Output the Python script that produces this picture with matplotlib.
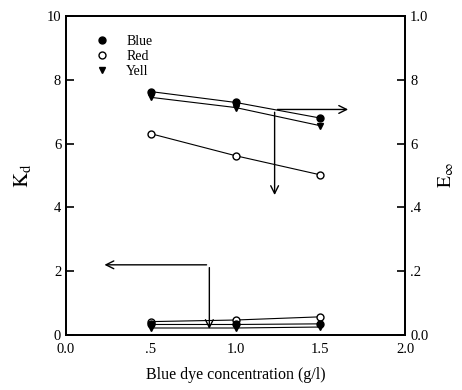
import matplotlib.pyplot as plt

plt.rcParams['font.family'] = ['Liberation Serif', 'DejaVu Serif']
plt.rcParams['mathtext.fontset'] = 'stix'

# blue dye concentration (g/l)
conc = [0.5, 1.0, 1.5]

# E_inf (right axis, 0-1) - upper group
E_blue = [0.763, 0.729, 0.680]
E_red = [0.631, 0.562, 0.502]
E_yell = [0.745, 0.713, 0.656]

# Kd (left axis, 0-10) - lower group
Kd_blue = [0.33, 0.33, 0.35]
Kd_red = [0.42, 0.47, 0.57]
Kd_yell = [0.22, 0.22, 0.25]

xticks = [0, 0.5, 1.0, 1.5, 2.0]
xticklabels = ["0.0", ".5", "1.0", "1.5", "2.0"]
kd_ticks = [0, 2, 4, 6, 8, 10]
e_ticks = [0, 0.2, 0.4, 0.6, 0.8, 1.0]
e_ticklabels = ["0.0", ".2", ".4", "6", "8", "1.0"]

fig = plt.figure(figsize=(4.62, 3.9), dpi=100)
ax = fig.add_axes([0.143, 0.141, 0.734, 0.818])
ax2 = ax.twinx()

# lower (Kd) curves
ax.plot(conc, Kd_red, color='black', lw=0.8, marker='o', mfc='white', mec='black', ms=5)
ax.plot(conc, Kd_blue, color='black', lw=0.8, marker='o', mfc='black', mec='black', ms=5)
ax.plot(conc, Kd_yell, color='black', lw=0.8, marker='v', mfc='black', mec='black', ms=5)

# upper (E_inf) curves
ax2.plot(conc, E_blue, color='black', lw=0.8, marker='o', mfc='black', mec='black', ms=5, label='Blue')
ax2.plot(conc, E_red, color='black', lw=0.8, marker='o', mfc='white', mec='black', ms=5, label='Red')
ax2.plot(conc, E_yell, color='black', lw=0.8, marker='v', mfc='black', mec='black', ms=5, label='Yell')

# arrows pointing to the axis each group belongs to
arw = dict(arrowstyle='->', color='black', lw=1.0, mutation_scale=14)
ax.annotate('', xy=(1.23, 4.3), xytext=(1.23, 7.07), arrowprops=arw)
ax.annotate('', xy=(1.68, 7.07), xytext=(1.23, 7.07), arrowprops=arw)
ax.annotate('', xy=(0.21, 2.2), xytext=(0.845, 2.2), arrowprops=arw)
ax.annotate('', xy=(0.845, 0.1), xytext=(0.845, 2.2), arrowprops=arw)

ax.set_xlim(0, 2.0)
ax.set_ylim(0, 10)
ax2.set_ylim(0, 1.0)
ax.set_xticks(xticks)
ax.set_xticklabels(xticklabels)
ax.set_yticks(kd_ticks)
ax2.set_yticks(e_ticks)
ax2.set_yticklabels(e_ticklabels)

ax.tick_params(axis='both', direction='in', length=6, width=1.2, labelsize=10.5)
ax2.tick_params(axis='y', direction='in', length=6, width=1.2, labelsize=10.5)
ax.tick_params(axis='x', length=0, pad=6)
for a in (ax, ax2):
    for s in a.spines.values():
        s.set_linewidth(1.3)

ax.set_xlabel("Blue dye concentration (g/l)", fontsize=11.5, labelpad=8)
ax.set_ylabel(r"$\mathrm{K_d}$", fontsize=15, labelpad=10)
ax2.set_ylabel(r"$\mathrm{E_\infty}$", fontsize=14, labelpad=6)

ax2.legend(loc='upper left', bbox_to_anchor=(0.05, 0.98), frameon=False,
           handlelength=1.0, handletextpad=1.2, labelspacing=0.15, fontsize=10,
           markerscale=1.0)
for line in ax2.get_legend().get_lines():
    line.set_linestyle('none')

fig.savefig('out.png', dpi=100)
